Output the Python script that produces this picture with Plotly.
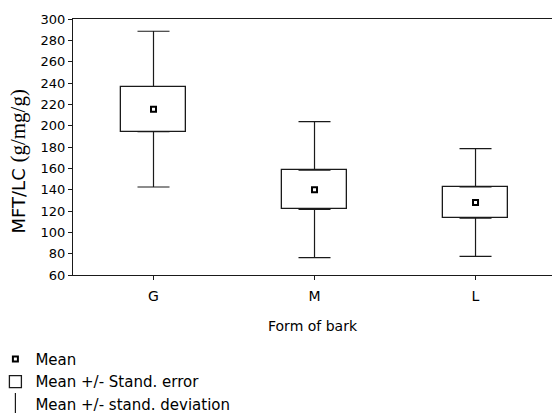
import plotly.graph_objects as go

categories = ["G", "M", "L"]
means = [215.5, 140.0, 128.0]
std_err = [21.2, 18.4, 14.7]
std_dev = [73.0, 63.7, 50.5]

y_ticks = list(range(60, 301, 20))

se_low = [m - s for m, s in zip(means, std_err)]
se_high = [m + s for m, s in zip(means, std_err)]
whisker_up = [d - s for d, s in zip(std_dev, std_err)]

FONT = "DejaVu Sans"
BLACK = "#1a1a1a"

fig = go.Figure()

# Box: mean +/- standard error
fig.add_trace(go.Bar(
    x=categories, y=[2 * s for s in std_err], base=se_low, width=0.4,
    marker=dict(color="white", line=dict(color=BLACK, width=1.3)),
    name="Mean +/- Stand. error", legendgroup="se", legendrank=2,
))

# Whiskers: mean +/- standard deviation (drawn from box edges)
fig.add_trace(go.Scatter(
    x=categories, y=se_high, mode="markers",
    marker=dict(size=1, color="rgba(0,0,0,0)"),
    error_y=dict(type="data", symmetric=False, array=whisker_up,
                 arrayminus=[0] * len(categories), width=16,
                 thickness=1.2, color=BLACK),
    showlegend=False, hoverinfo="skip",
))
fig.add_trace(go.Scatter(
    x=categories, y=se_low, mode="markers",
    marker=dict(size=1, color="rgba(0,0,0,0)"),
    error_y=dict(type="data", symmetric=False, array=[0] * len(categories),
                 arrayminus=whisker_up, width=16,
                 thickness=1.2, color=BLACK),
    showlegend=False, hoverinfo="skip",
))

# Legend-only entry for the whisker
fig.add_trace(go.Scatter(
    x=[None], y=[None], mode="markers",
    marker=dict(symbol="line-ns-open", size=16, color=BLACK,
                line=dict(width=1.2, color=BLACK)),
    name="Mean +/- stand. deviation", legendgroup="sd", legendrank=3,
))

# Mean marker
fig.add_trace(go.Scatter(
    x=categories, y=means, mode="markers",
    marker=dict(symbol="square-open", size=5, color="black",
                line=dict(width=2, color="black")),
    name="Mean", legendgroup="mean", legendrank=1,
))

fig.update_layout(
    width=552, height=413,
    margin=dict(l=73, r=0, t=19, b=138, autoexpand=False),
    paper_bgcolor="white", plot_bgcolor="white",
    font=dict(family=FONT, size=13, color="black"),
    bargap=0,
    showlegend=True,
    legend=dict(
        x=-0.162, y=-0.265, xanchor="left", yanchor="top",
        orientation="v", font=dict(family=FONT, size=15, color="black"),
        tracegroupgap=0, bgcolor="rgba(0,0,0,0)", itemclick=False,
    ),
    xaxis=dict(
        type="category", range=[-0.5, 2.475],
        showline=True, linecolor=BLACK, linewidth=1.3, mirror=True,
        ticks="outside", ticklen=4, tickcolor=BLACK,
        showgrid=False, zeroline=False, ticklabelstandoff=4,
        tickfont=dict(family=FONT, size=14),
        title=dict(text="Form of bark", font=dict(family=FONT, size=14), standoff=18),
    ),
    yaxis=dict(
        range=[60, 300], tickvals=y_ticks,
        showline=True, linecolor=BLACK, linewidth=1.3, mirror=False,
        ticks="outside", ticklen=4, tickcolor=BLACK,
        showgrid=False, zeroline=False,
        tickfont=dict(family=FONT, size=13),
        title=dict(
            text='MFT/LC <span style="font-family:Liberation Serif;font-size:21px">(g/mg/g)</span>'
                 + '&nbsp;' * 5,
            font=dict(family=FONT, size=18), standoff=10,
        ),
    ),
)

fig.write_html("out.html", config={"displayModeBar": False},
               post_script="document.body.style.margin='0';")
